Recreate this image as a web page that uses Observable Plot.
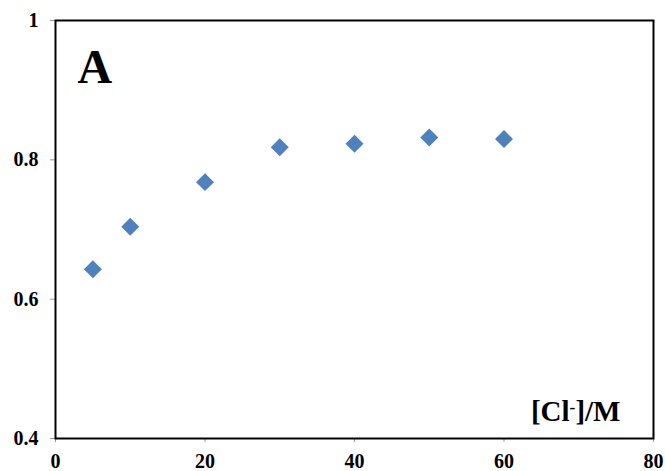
<!DOCTYPE html>
<html>
<head>
<meta charset="utf-8">
<script src="https://cdn.jsdelivr.net/npm/d3@7"></script>
<script src="https://cdn.jsdelivr.net/npm/@observablehq/plot@0.6"></script>
<style>
  html, body { margin: 0; padding: 0; background: white; }
</style>
</head>
<body>
<div id="chart"></div>
<script>
const xValues = [5, 10, 20, 30, 40, 50, 60];
const yValues = [0.643, 0.704, 0.768, 0.818, 0.823, 0.832, 0.830];
const xTicks = [0, 20, 40, 60, 80];
const yTicks = [0.4, 0.6, 0.8, 1];
const yTickLabels = ["0.4", "0.6", "0.8", "1"];
const panelLabel = "A";
const xAxisLabelParts = ["[Cl", "-", "]/M"];

const data = xValues.map((x, i) => ({x, y: yValues[i]}));

const chart = Plot.plot({
  width: 665,
  height: 471,
  marginLeft: 55,
  marginRight: 12,
  marginTop: 20,
  marginBottom: 33,
  x: {domain: [0, 80]},
  y: {domain: [0.4, 1]},
  style: {
    fontFamily: "'Liberation Serif', 'Times New Roman', serif",
    fontWeight: "bold",
    fontSize: "20px",
    background: "white",
    color: "black"
  },
  marks: [
    Plot.axisX({ticks: xTicks, tickSize: 4, tickPadding: 11, stroke: "#999", label: null, fontSize: 20, fontWeight: "bold"}),
    Plot.axisY({ticks: yTicks, tickFormat: (d) => yTickLabels[yTicks.indexOf(d)], tickSize: 5, tickPadding: 12, stroke: "#999", label: null, fontSize: 20, fontWeight: "bold"}),
    Plot.frame({stroke: "black", strokeWidth: 2}),
    Plot.dot(data, {x: "x", y: "y", symbol: "diamond2", r: 8.1, fill: "#4F81BD", stroke: "none"}),
    Plot.text([panelLabel], {frameAnchor: "top-left", textAnchor: "start", lineAnchor: "bottom", dx: 22, dy: 62, fontSize: 48, fontWeight: "bold", fill: "black"}),
    Plot.text([xAxisLabelParts.join("")], {frameAnchor: "bottom-right", textAnchor: "end", lineAnchor: "bottom", dx: -33, dy: -18, fontSize: 29, fontWeight: "bold", fill: "black", className: "xlabel"})
  ]
});
document.getElementById("chart").appendChild(chart);

// turn the middle part of the axis label into a superscript
const t = d3.select(chart).select(".xlabel text");
if (!t.empty()) {
  t.text(null);
  t.append("tspan").text(xAxisLabelParts[0]);
  t.append("tspan").attr("dy", "-0.45em").attr("font-size", "0.6em").text(xAxisLabelParts[1]);
  t.append("tspan").attr("dy", "0.27em").text(xAxisLabelParts[2]);
}
</script>
</body>
</html>
